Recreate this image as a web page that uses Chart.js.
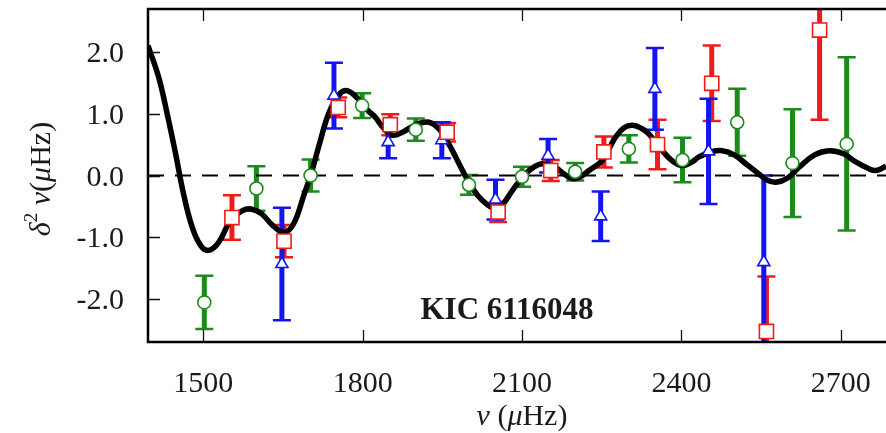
<!DOCTYPE html>
<html>
<head>
<meta charset="utf-8">
<script src="https://cdn.jsdelivr.net/npm/chart.js@4.4.1/dist/chart.umd.min.js"></script>
<style>
  html, body { margin: 0; padding: 0; background: #fff; overflow: hidden; }
  canvas { display: block; }
</style>
</head>
<body>
<canvas id="fitChart" width="886" height="433"></canvas>
<script>
// axis ranges and tick labels
const xMin = 1396, xMax = 2785;
const yMin = -2.69, yMax = 2.69;
const xTicks = [1500, 1800, 2100, 2400, 2700];
const yTicks = [-2, -1, 0, 1, 2];
const xTickLabels = ['1500', '1800', '2100', '2400', '2700'];
const yTickLabels = ['-2.0', '-1.0', '0.0', '1.0', '2.0'];

// l = 0 (green circles)
const greenX = [1502, 1600, 1702, 1799, 1900, 2000, 2100, 2200, 2301, 2402, 2505, 2609, 2711];
const greenY = [-2.05, -0.21, 0.0, 1.13, 0.74, -0.15, -0.02, 0.06, 0.43, 0.25, 0.86, 0.20, 0.51];
const greenErr = [0.43, 0.36, 0.26, 0.20, 0.18, 0.16, 0.16, 0.14, 0.22, 0.36, 0.54, 0.87, 1.40];

// l = 1 (red squares)
const redX = [1554, 1652, 1754, 1852, 1959, 2055, 2154, 2254, 2355, 2457, 2560, 2660];
const redY = [-0.68, -1.06, 1.10, 0.82, 0.70, -0.59, 0.08, 0.38, 0.50, 1.49, -2.52, 2.35];
const redErr = [0.36, 0.26, 0.16, 0.17, 0.15, 0.16, 0.17, 0.25, 0.40, 0.61, 0.89, 1.45];

// l = 2 (blue triangles)
const blueX = [1648, 1746, 1848, 1949, 2050, 2149, 2248, 2350, 2451, 2555];
const blueY = [-1.43, 1.29, 0.54, 0.57, -0.39, 0.32, -0.66, 1.40, 0.39, -1.40];
const blueErr = [0.91, 0.53, 0.26, 0.29, 0.32, 0.27, 0.40, 0.66, 0.85, 1.40];

// fitted signal (black curve)
const fitX = [1396, 1416, 1432, 1448, 1463, 1479, 1495, 1510, 1529, 1551, 1573, 1590, 1610, 1630, 1652,
  1670, 1690, 1702, 1720, 1736, 1755, 1771, 1790, 1810, 1824, 1840, 1856, 1875, 1900, 1925, 1945,
  1962, 1975, 1988, 2005, 2025, 2050, 2065, 2082, 2107, 2125, 2138, 2163, 2180, 2195, 2210, 2226,
  2251, 2265, 2276, 2292, 2308, 2325, 2339, 2364, 2385, 2402, 2420, 2433, 2455, 2477, 2500, 2521,
  2545, 2560, 2578, 2600, 2621, 2650, 2678, 2705, 2728, 2750, 2766, 2785];
const fitY = [2.10, 1.59, 1.00, 0.35, -0.30, -0.83, -1.13, -1.21, -1.08, -0.73, -0.57, -0.54, -0.62, -0.80, -0.92,
  -0.78, -0.30, 0.00, 0.55, 1.00, 1.30, 1.37, 1.25, 1.05, 0.94, 0.76, 0.65, 0.70, 0.82, 0.86, 0.74,
  0.51, 0.30, 0.08, -0.18, -0.40, -0.54, -0.45, -0.24, 0.03, 0.15, 0.19, 0.13, 0.02, -0.05, -0.02, 0.08,
  0.24, 0.45, 0.62, 0.77, 0.81, 0.76, 0.67, 0.40, 0.22, 0.16, 0.22, 0.30, 0.38, 0.40, 0.33, 0.19,
  0.03, -0.07, -0.11, -0.04, 0.13, 0.33, 0.40, 0.35, 0.22, 0.12, 0.08, 0.15];

const GREEN = '#1c8a1c';
const RED = '#f01c1c';
const BLUE = '#1414f0';
const SERIF = '"Liberation Serif", "Times New Roman", serif';

const toPoints = (xs, ys) => xs.map((x, i) => ({ x: x, y: ys[i] }));

const errorSeries = [
  { xs: greenX, ys: greenY, errs: greenErr, color: GREEN },
  { xs: redX, ys: redY, errs: redErr, color: RED },
  { xs: blueX, ys: blueY, errs: blueErr, color: BLUE }
];

function drawRich(ctx, parts, x, y) {
  let total = 0;
  parts.forEach(p => { ctx.font = p.font; total += ctx.measureText(p.t).width; });
  let cx = x - total / 2;
  parts.forEach(p => {
    ctx.font = p.font;
    ctx.fillText(p.t, cx, y + (p.dy || 0));
    cx += ctx.measureText(p.t).width;
  });
}

const decorPlugin = {
  id: 'decor',
  beforeDatasetsDraw(chart) {
    const { ctx, chartArea: a, scales: { x, y } } = chart;
    ctx.save();
    ctx.beginPath();
    ctx.rect(a.left, a.top, a.right - a.left, a.bottom - a.top);
    ctx.clip();
    errorSeries.forEach(s => {
      ctx.strokeStyle = s.color;
      s.xs.forEach((xv, i) => {
        const px = x.getPixelForValue(xv);
        const top = y.getPixelForValue(s.ys[i] + s.errs[i]);
        const bot = y.getPixelForValue(s.ys[i] - s.errs[i]);
        ctx.lineWidth = 5;
        ctx.beginPath();
        ctx.moveTo(px, top);
        ctx.lineTo(px, bot);
        ctx.stroke();
        ctx.lineWidth = 2.5;
        ctx.beginPath();
        ctx.moveTo(px - 9, top); ctx.lineTo(px + 9, top);
        ctx.moveTo(px - 9, bot); ctx.lineTo(px + 9, bot);
        ctx.stroke();
      });
    });
    ctx.restore();
  },
  afterDraw(chart) {
    const { ctx, chartArea: a, scales: { x, y } } = chart;
    ctx.save();
    // inward tick marks
    ctx.strokeStyle = '#111';
    ctx.lineWidth = 1.3;
    ctx.beginPath();
    xTicks.forEach(v => {
      const px = Math.round(x.getPixelForValue(v)) + 0.5;
      ctx.moveTo(px, a.bottom); ctx.lineTo(px, a.bottom - 12);
      ctx.moveTo(px, a.top); ctx.lineTo(px, a.top + 12);
    });
    yTicks.forEach(v => {
      const py = Math.round(y.getPixelForValue(v)) + 0.5;
      ctx.moveTo(a.left, py); ctx.lineTo(a.left + 12, py);
    });
    ctx.stroke();
    // frame (right edge runs off the picture)
    ctx.strokeStyle = '#000';
    ctx.lineWidth = 2.5;
    ctx.beginPath();
    ctx.moveTo(a.right + 2, a.top);
    ctx.lineTo(a.left, a.top);
    ctx.lineTo(a.left, a.bottom);
    ctx.lineTo(a.right + 2, a.bottom);
    ctx.stroke();

    ctx.fillStyle = '#1a1a1a';
    ctx.textBaseline = 'alphabetic';
    const it = 'italic 30px ' + SERIF;
    const rm = '30px ' + SERIF;
    // tick labels
    ctx.font = rm;
    ctx.textAlign = 'center';
    xTicks.forEach((v, i) => ctx.fillText(xTickLabels[i], x.getPixelForValue(v), 392));
    ctx.textAlign = 'right';
    yTicks.forEach((v, i) => ctx.fillText(yTickLabels[i], 124, y.getPixelForValue(v) + 10));
    ctx.textAlign = 'left';
    // x title
    drawRich(ctx, [
      { t: 'ν', font: it }, { t: ' (', font: rm }, { t: 'μ', font: it }, { t: 'Hz)', font: rm }
    ], 522, 425);
    // y title
    ctx.save();
    ctx.translate(50, 179);
    ctx.rotate(-Math.PI / 2);
    drawRich(ctx, [
      { t: 'δ', font: it }, { t: '2', font: '19px ' + SERIF, dy: -13 }, { t: ' ', font: rm },
      { t: 'ν', font: it }, { t: '(', font: rm }, { t: 'μ', font: it }, { t: 'Hz)', font: rm }
    ], 0, 0);
    ctx.restore();
    // star label
    ctx.font = 'bold 31px ' + SERIF;
    ctx.textAlign = 'center';
    ctx.fillText('KIC 6116048', 507, 319);
    ctx.restore();
  }
};

new Chart(document.getElementById('fitChart'), {
  type: 'scatter',
  data: {
    datasets: [
      { type: 'line', data: toPoints(fitX, fitY), borderColor: '#000', borderWidth: 5.5,
        pointRadius: 0, tension: 0.4, fill: false, order: 1 },
      { type: 'line', data: toPoints([xMin, xMax], [0, 0]), borderColor: '#000', borderWidth: 2,
        borderDash: [16, 11], pointRadius: 0, fill: false, order: 2 },
      { data: toPoints(greenX, greenY), pointStyle: 'circle', pointRadius: 6.5,
        backgroundColor: '#fff', borderColor: GREEN, borderWidth: 1.6, order: 0 },
      { data: toPoints(redX, redY), pointStyle: 'rect', pointRadius: 10,
        backgroundColor: '#fff', borderColor: RED, borderWidth: 1.6, order: 0 },
      { data: toPoints(blueX, blueY), pointStyle: 'triangle', pointRadius: 7,
        backgroundColor: '#fff', borderColor: BLUE, borderWidth: 1.6, order: 0 }
    ]
  },
  options: {
    responsive: false,
    animation: false,
    devicePixelRatio: 1,
    layout: { autoPadding: false, padding: { top: 9, left: 0, right: 0, bottom: 0 } },
    plugins: { legend: { display: false }, tooltip: { enabled: false } },
    scales: {
      x: {
        type: 'linear', min: xMin, max: xMax,
        afterBuildTicks: s => { s.ticks = xTicks.map(v => ({ value: v })); },
        afterFit: s => { s.height = 91; },
        grid: { display: false, drawTicks: false },
        border: { display: false },
        ticks: { display: false }
      },
      y: {
        min: yMin, max: yMax,
        afterBuildTicks: s => { s.ticks = yTicks.map(v => ({ value: v })); },
        afterFit: s => { s.width = 148; },
        grid: { display: false, drawTicks: false },
        border: { display: false },
        ticks: { display: false }
      }
    }
  },
  plugins: [decorPlugin]
});
</script>
</body>
</html>
